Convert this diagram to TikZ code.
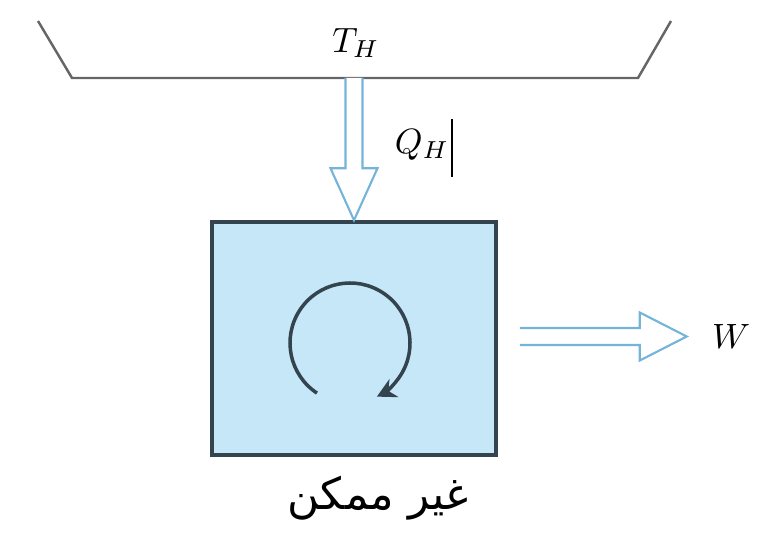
\documentclass[tikz,border=0pt]{standalone}
\usepackage{fontspec}
\usepackage{amsmath}
\usepackage{xcolor}
\usetikzlibrary{arrows.meta, positioning, calc}
\TeXXeTstate=1
\newfontfamily\arabicfont[Script=Arabic]{DejaVu Sans}

\definecolor{engfill}{HTML}{C6E7F8}
\definecolor{engline}{HTML}{34444F}
\definecolor{heatblue}{HTML}{74B4DA}

\tikzset{
    engine/.style={draw=engline, line width=1pt, fill=engfill, minimum width=2.84cm, minimum height=2.33cm},
    hollow/.style={draw=heatblue, line width=0.6pt, fill=white},
    label/.style={font=\fontsize{10}{12}\selectfont}
}

\begin{document}
\begin{tikzpicture}
    \useasboundingbox (0,0) rectangle (7.57,5.40);

    % Hot reservoir
    \draw[gray!80!black, line width=0.7pt] (0.38,5.19) -- (0.72,4.62) coordinate (resL)
        -- (6.38,4.62) coordinate (resR) -- (6.71,5.19);
    \coordinate (res) at (3.54,4.62);
    \node[label] (th) at (3.56,4.97) {$T_H$};

    % Engine
    \node[engine] (eng) at (3.54,2.015) {};

    % Heat flow into the engine
    \draw[hollow] ($(res)+(-0.085,0)$) -- ($(eng.north)+(-0.085,0.52)$) -- ($(eng.north)+(-0.235,0.52)$)
        -- (eng.north) -- ($(eng.north)+(0.235,0.52)$) -- ($(eng.north)+(0.085,0.52)$) -- ($(res)+(0.085,0)$);
    \node[label] (qh) at (4.22,3.95) {$Q_H$};
    \draw[line width=0.6pt] ($(qh.east)+(-0.1,0.26)$) -- ($(qh.east)+(-0.1,-0.32)$);

    % Cycle
    \draw[engline, line width=1pt, -{Stealth[length=1.9mm, width=2mm]}]
        ($(eng.center)+(-0.04,-0.045)$) ++(236.6:0.6cm) arc[start angle=236.6, end angle=-63.4, radius=0.6cm];

    % Work output
    \coordinate (wtip) at ($(eng.east)+(1.89,0.02)$);
    \node[label, right=0.13cm of wtip] (w) {$W$};
    \draw[hollow] ($(eng.east)+(0.22,0.105)$) -- ($(wtip)+(-0.47,0.085)$) -- ($(wtip)+(-0.47,0.24)$)
        -- (wtip) -- ($(wtip)+(-0.47,-0.24)$) -- ($(wtip)+(-0.47,-0.085)$) -- ($(eng.east)+(0.22,-0.065)$);

    % Caption
    \node (cap) at (3.78,0.42) {\fontsize{12.5}{15}\selectfont\arabicfont\beginR غير ممكن\endR};
\end{tikzpicture}
\end{document}
